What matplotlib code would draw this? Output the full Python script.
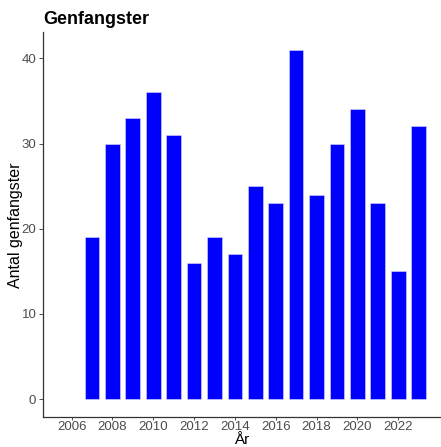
import matplotlib
matplotlib.use("Agg")
import matplotlib.pyplot as plt

years = [2007, 2008, 2009, 2010, 2011, 2012, 2013, 2014, 2015, 2016, 2017,
         2018, 2019, 2020, 2021, 2022, 2023]
counts = [19, 30, 33, 36, 31, 16, 19, 17, 25, 23, 41, 24, 30, 34, 23, 15, 32]
xticks = [2006, 2008, 2010, 2012, 2014, 2016, 2018, 2020, 2022]
yticks = [0, 10, 20, 30, 40]

plt.rcParams['font.family'] = ['Liberation Sans', 'DejaVu Sans']

W, H = 441, 447
fig = plt.figure(figsize=(W / 100, H / 100), dpi=100)
left, right, bottom, top = 43, 440, 416.7, 32.3
ax = fig.add_axes([left / W, (H - bottom) / H, (right - left) / W, (bottom - top) / H])

ax.bar(years, counts, width=0.72, color='#0000FF', edgecolor='#D8D8FF', linewidth=0.4)

ax.set_xlim(2004.6, 2024.05)
ax.set_ylim(-2.05, 43.05)
ax.set_xticks(xticks)
ax.set_yticks(yticks)
ax.tick_params(axis='both', colors='#333333', labelcolor='#4D4D4D', labelsize=9.5,
               width=0.6)
ax.tick_params(axis='x', length=2, pad=1.2)
ax.tick_params(axis='y', length=3, pad=1.8)
for s in ['top', 'right']:
    ax.spines[s].set_visible(False)
for s in ['left', 'bottom']:
    ax.spines[s].set_color('#333333')
    ax.spines[s].set_linewidth(0.9)

ax.set_xlabel('År', fontsize=11, color='black')
ax.xaxis.set_label_coords(0.5, -23.3 / (bottom - top))
ax.set_ylabel('Antal genfangster', fontsize=11.5, color='black')
ax.yaxis.set_label_coords((15.5 - left) / (right - left), (bottom - 225) / (bottom - top))
ax.yaxis.label.set_va('center')
ax.xaxis.label.set_va('center')
fig.text(43 / W, 1 - 20 / H, 'Genfangster', fontsize=13, fontweight='bold',
         ha='left', va='center', color='black')

fig.savefig('out.png', dpi=100, facecolor='white')
